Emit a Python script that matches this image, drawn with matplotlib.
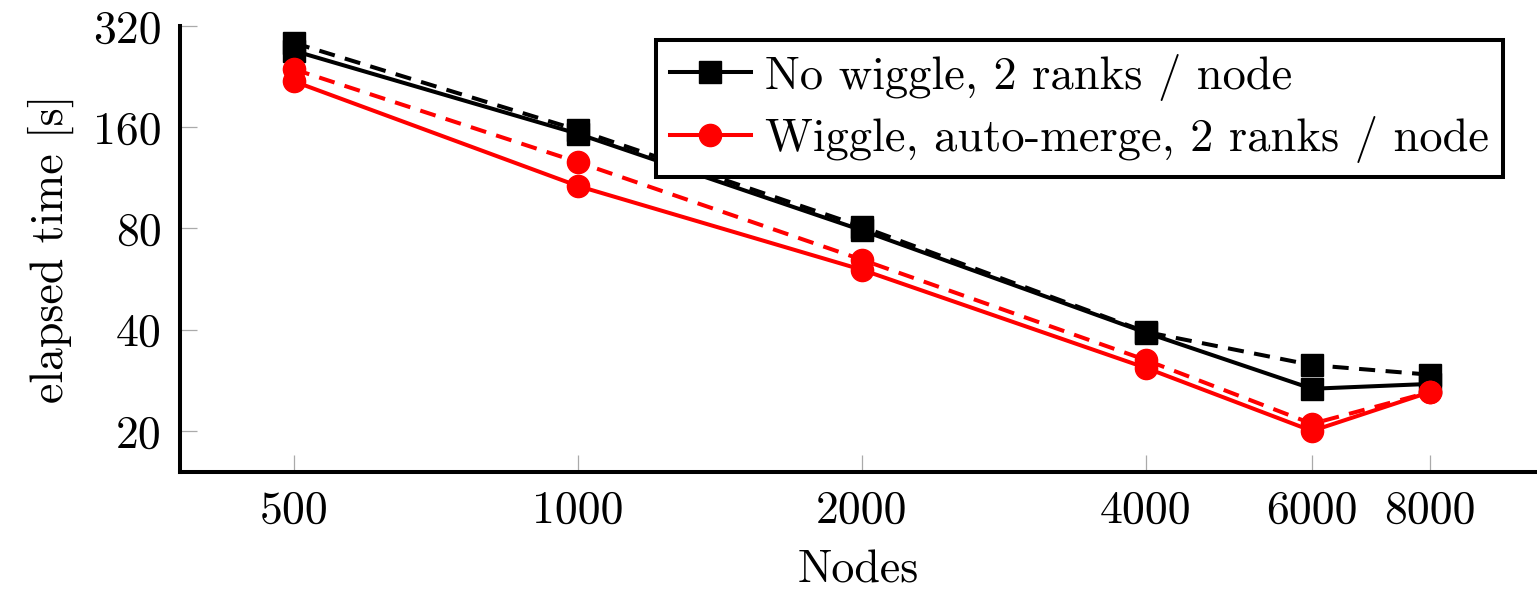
import matplotlib
matplotlib.use("Agg")
import matplotlib.pyplot as plt
from matplotlib.ticker import FixedLocator, FixedFormatter, NullLocator

plt.rcParams['font.family'] = ['cmr10', 'DejaVu Serif']
plt.rcParams['mathtext.fontset'] = 'cm'
plt.rcParams['axes.formatter.use_mathtext'] = True

# данные
nodes = [500, 1000, 2000, 4000, 6000, 8000]
nowiggle_solid = [270, 153, 79, 39.2, 26.7, 27.6]
nowiggle_dashed = [285, 157, 81, 39.4, 31.4, 29.4]
wiggle_solid = [219, 107, 60.3, 30.8, 20.0, 26.1]
wiggle_dashed = [238, 126, 64.6, 32.5, 21.0, 26.1]

xticks = [500, 1000, 2000, 4000, 6000, 8000]
yticks = [20, 40, 80, 160, 320]

fs = 33
lw = 2.9
ms = 16
dash = (4, 2.6)

fig = plt.figure(figsize=(15.37, 5.89), dpi=100)
ax = fig.add_axes([180/1537, 1 - 472/589, 1 - 180/1537, (472 - 26)/589])

ax.plot(nodes, nowiggle_dashed, color='black', lw=lw, dashes=dash, marker='s', ms=ms)
ax.plot(nodes, nowiggle_solid, color='black', lw=lw, marker='s', ms=ms,
        label='No wiggle, 2 ranks / node')
ax.plot(nodes, wiggle_dashed, color='red', lw=lw, dashes=dash, marker='o', ms=ms)
ax.plot(nodes, wiggle_solid, color='red', lw=lw, marker='o', ms=ms,
        label='Wiggle, auto-merge, 2 ranks / node')

ax.set_xscale('log', base=2)
ax.set_yscale('log', base=2)
ax.set_xlim(378.6, 10390)
ax.set_ylim(15.1, 320)

ax.xaxis.set_major_locator(FixedLocator(xticks))
ax.xaxis.set_major_formatter(FixedFormatter([str(t) for t in xticks]))
ax.yaxis.set_major_locator(FixedLocator(yticks))
ax.yaxis.set_major_formatter(FixedFormatter([str(t) for t in yticks]))
ax.xaxis.set_minor_locator(NullLocator())
ax.yaxis.set_minor_locator(NullLocator())

ax.tick_params(direction='in', length=12.5, width=0.9, color='#aaaaaa',
               labelsize=fs, pad=13)

for s in ['top', 'right']:
    ax.spines[s].set_visible(False)
for s in ['left', 'bottom']:
    ax.spines[s].set_linewidth(2.9)

ax.set_xlabel('Nodes', fontsize=fs, labelpad=13)
ax.set_ylabel('elapsed time [s]', fontsize=fs, labelpad=14)

leg = ax.legend(loc='upper right', bbox_to_anchor=(0.975, 0.969), borderaxespad=0,
                fontsize=33.5, fancybox=False, framealpha=1, edgecolor='black',
                handlelength=1.75, handletextpad=0.3, borderpad=0.3, labelspacing=0.33)
leg.get_frame().set_linewidth(2.9)

fig.savefig('out.png', dpi=100)
